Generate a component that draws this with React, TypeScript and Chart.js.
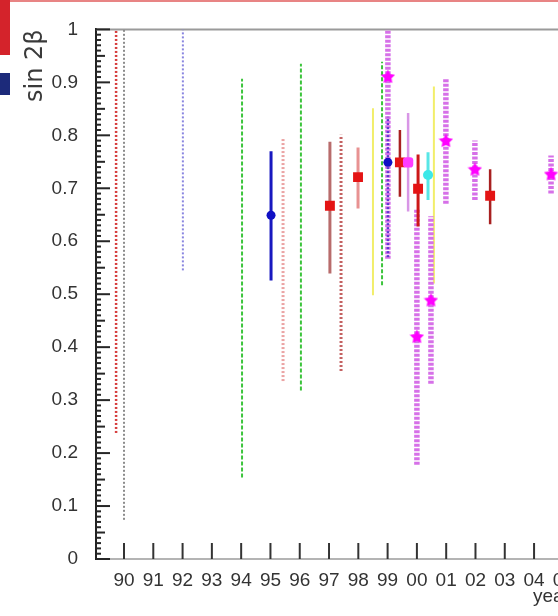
import React, { useEffect, useRef } from 'react';
import { Chart, registerables } from 'chart.js';

Chart.register(...registerables);

// ---- axis ticks ----
const xTickYears = [1990, 1991, 1992, 1993, 1994, 1995, 1996, 1997, 1998, 1999, 2000, 2001, 2002, 2003, 2004, 2005];
const xTickLabels = ['90', '91', '92', '93', '94', '95', '96', '97', '98', '99', '00', '01', '02', '03', '04', '05'];
const yTickValues = [0, 0.1, 0.2, 0.3, 0.4, 0.5, 0.6, 0.7, 0.8, 0.9, 1];
const yTickLabels = ['0', '0.1', '0.2', '0.3', '0.4', '0.5', '0.6', '0.7', '0.8', '0.9', '1'];

const X_MIN = 1989.044;
const X_MAX = 2005.227;
const Y_MIN = 0;
const Y_MAX = 1;

// ---- measurements (sin 2beta vs year) ----
const measYear = [
  1989.73, 1990.0, 1992.01, 1994.03, 1995.02, 1995.43, 1996.04, 1997.03, 1997.41, 1997.99,
  1998.5, 1998.81, 1999.01, 1999.01, 1999.42, 1999.7, 2000.0, 2000.04, 2000.38, 2000.58,
  2000.48, 2000.99, 2001.98, 2002.5, 2004.58,
];
const measCentral: (number | null)[] = [
  null, null, null, null, 0.649, null, null, 0.667, null, 0.721,
  null, null, 0.911, 0.749, 0.749, 0.749, 0.42, 0.699, 0.725, null,
  0.489, 0.79, 0.736, 0.686, 0.727,
];
const measLow = [
  0.238, 0.074, 0.545, 0.154, 0.526, 0.336, 0.318, 0.539, 0.355, 0.662,
  0.498, 0.517, 0.567, 0.57, 0.684, 0.656, 0.178, 0.628, 0.678, 0.52,
  0.331, 0.671, 0.678, 0.632, 0.69,
];
const measHigh = [
  1.0, 1.0, 1.0, 0.907, 0.77, 0.796, 0.935, 0.788, 0.801, 0.777,
  0.851, 0.939, 1.26, 0.835, 0.81, 0.842, 0.66, 0.764, 0.768, 0.892,
  0.647, 0.907, 0.79, 0.736, 0.762,
];
// which drawing style each measurement uses (keys into style tables below)
const measLineKind = [
  'dotRed', 'dotGray', 'dotBlue', 'dashGreen', 'solidBlue', 'dotPink', 'dashGreen', 'solidRosy', 'dotBrown', 'solidSalmon',
  'solidYellow', 'dashGreen', 'dotMagenta', 'dotIndigo', 'solidDarkRed', 'solidViolet', 'dotMagenta', 'solidRed', 'solidCyan', 'solidYellow',
  'dotMagenta', 'dotMagenta', 'dotMagenta', 'solidDarkRed', 'dotMagenta',
];
const measMarkKind: (string | null)[] = [
  null, null, null, null, 'blueDot', null, null, 'redSquare', null, 'redSquare',
  null, null, 'star', 'blueDot', 'redSquare', 'magentaSquare', 'star', 'redSquare', 'cyanDot', null,
  'star', 'star', 'star', 'redSquare', 'star',
];

// ---- styles ----
const lineStyles: Record<string, { color: string; width: number; dash: number[] }> = {
  dotRed: { color: '#d63c3c', width: 2.5, dash: [2, 2] },
  dotGray: { color: '#8c8c8c', width: 2, dash: [2, 2] },
  dotBlue: { color: '#8a86e0', width: 2, dash: [2, 2] },
  dashGreen: { color: '#3cc43c', width: 2, dash: [4, 2] },
  solidBlue: { color: '#1818c0', width: 3, dash: [] },
  dotPink: { color: '#eba4a4', width: 3, dash: [2, 2] },
  solidRosy: { color: '#b86c6c', width: 3, dash: [] },
  dotBrown: { color: '#c46262', width: 3, dash: [2, 2] },
  solidSalmon: { color: '#e89292', width: 3, dash: [] },
  solidYellow: { color: '#f2ee6a', width: 2, dash: [] },
  dotMagenta: { color: '#d670e8', width: 5.5, dash: [3, 1.5] },
  dotIndigo: { color: '#5a3ad0', width: 2.5, dash: [2, 2] },
  solidDarkRed: { color: '#a82020', width: 2.5, dash: [] },
  solidViolet: { color: '#d896e6', width: 2.5, dash: [] },
  solidRed: { color: '#cc1818', width: 3, dash: [] },
  solidCyan: { color: '#58e6e6', width: 3, dash: [] },
};
const markStyles: Record<string, { style: string; radius: number; color: string }> = {
  blueDot: { style: 'circle', radius: 4.5, color: '#1010c4' },
  redSquare: { style: 'rect', radius: 7, color: '#e41414' },
  magentaSquare: { style: 'rectRounded', radius: 6, color: '#ff3cff' },
  cyanDot: { style: 'circle', radius: 5, color: '#3ce8e8' },
  star: { style: 'star', radius: 7, color: '#ff00ff' },
};

const TICK_FONT = 'Liberation Sans, Arial, sans-serif';

function makeStar(size: number, color: string) {
  const c = document.createElement('canvas');
  c.width = size;
  c.height = size;
  const g = c.getContext('2d')!;
  const cx = size / 2;
  const cy = size / 2 + 0.5;
  const R = size / 2;
  const r = R * 0.5;
  g.beginPath();
  for (let k = 0; k < 10; k++) {
    const ang = -Math.PI / 2 + (k * Math.PI) / 5;
    const rad = k % 2 === 0 ? R : r;
    const px = cx + rad * Math.cos(ang);
    const py = cy + rad * Math.sin(ang);
    if (k === 0) g.moveTo(px, py);
    else g.lineTo(px, py);
  }
  g.closePath();
  g.fillStyle = color;
  g.fill();
  return c;
}

const frameAndTicks = {
  id: 'frameAndTicks',
  beforeDatasetsDraw(chart: any) {
    const { ctx, chartArea, scales } = chart;
    const x = scales.x;
    const y = scales.y;
    ctx.save();
    // top frame line
    ctx.strokeStyle = '#9a9a9a';
    ctx.lineWidth = 2;
    ctx.beginPath();
    ctx.moveTo(chartArea.left, chartArea.top);
    ctx.lineTo(chartArea.right + 40, chartArea.top);
    ctx.stroke();
    // y inner ticks
    ctx.strokeStyle = '#262626';
    ctx.lineWidth = 2;
    for (let i = 0; i <= 100; i++) {
      const v = Y_MIN + (i * (Y_MAX - Y_MIN)) / 100;
      const py = y.getPixelForValue(v);
      const len = i % 10 === 0 ? 14 : i % 5 === 0 ? 9 : 5;
      ctx.beginPath();
      ctx.moveTo(chartArea.left, py);
      ctx.lineTo(chartArea.left + len, py);
      ctx.stroke();
    }
    // x inner ticks
    ctx.strokeStyle = '#333';
    ctx.lineWidth = 2;
    xTickYears.forEach((yr) => {
      const px = x.getPixelForValue(yr);
      ctx.beginPath();
      ctx.moveTo(px, chartArea.bottom);
      ctx.lineTo(px, chartArea.bottom - 16);
      ctx.stroke();
    });
    ctx.restore();
  },
};

export default function App() {
  const ref = useRef<HTMLCanvasElement>(null);

  useEffect(() => {
    const canvas = ref.current;
    if (!canvas) return;
    const star = makeStar(15, markStyles.star.color);
    const datasets: any[] = [];
    measYear.forEach((yr, i) => {
      const ls = lineStyles[measLineKind[i]];
      datasets.push({
        type: 'scatter',
        data: [
          { x: yr, y: measLow[i] },
          { x: yr, y: measHigh[i] },
        ],
        showLine: true,
        borderColor: ls.color,
        backgroundColor: ls.color,
        borderWidth: ls.width,
        borderDash: ls.dash,
        pointRadius: 0,
        pointHoverRadius: 0,
        clip: 0,
        order: 1000 - i,
      });
    });
    measYear.forEach((yr, i) => {
      const c = measCentral[i];
      const mk = measMarkKind[i];
      if (c == null || mk == null) return;
      const ms = markStyles[mk];
      datasets.push({
        type: 'scatter',
        data: [{ x: yr, y: c }],
        pointStyle: mk === 'star' ? star : ms.style,
        pointRadius: ms.radius,
        pointHoverRadius: ms.radius,
        backgroundColor: ms.color,
        borderColor: ms.color,
        borderWidth: 0,
        order: 100 - i,
      });
    });

    const chart = new Chart(canvas, {
      type: 'scatter',
      data: { datasets },
      options: {
        responsive: false,
        animation: false,
        devicePixelRatio: 1,
        events: [],
        layout: { padding: { left: 0, top: 20, right: 30, bottom: 0 } },
        plugins: { legend: { display: false }, tooltip: { enabled: false } },
        scales: {
          x: {
            type: 'linear',
            min: X_MIN,
            max: X_MAX,
            afterBuildTicks: (s: any) => {
              s.ticks = xTickYears.map((v) => ({ value: v }));
            },
            afterFit: (s: any) => {
              s.height = 57;
            },
            grid: { display: false, drawTicks: false, drawOnChartArea: false },
            border: { display: true, color: '#b4b4b4', width: 2 },
            ticks: {
              autoSkip: false,
              maxRotation: 0,
              padding: 10,
              color: '#333333',
              font: { family: TICK_FONT, size: 19 },
              callback: (_v: any, idx: number) => xTickLabels[idx],
            },
            title: {
              display: true,
              text: 'year',
              align: 'end',
              color: '#333',
              font: { family: TICK_FONT, size: 19 },
              padding: { top: 0, bottom: 8 },
            },
          },
          y: {
            type: 'linear',
            min: Y_MIN,
            max: Y_MAX,
            afterBuildTicks: (s: any) => {
              s.ticks = yTickValues.map((v) => ({ value: v }));
            },
            afterFit: (s: any) => {
              s.width = 96;
            },
            grid: { display: false, drawTicks: false, drawOnChartArea: false },
            border: { display: true, color: '#222', width: 2 },
            ticks: {
              autoSkip: false,
              padding: 18,
              color: '#333333',
              font: { family: TICK_FONT, size: 19 },
              callback: (_v: any, idx: number) => yTickLabels[idx],
            },
            title: {
              display: true,
              text: 'sin 2β',
              align: 'end',
              color: '#3a3a3a',
              font: { family: 'DejaVu Sans', size: 24 },
              padding: { top: 21, bottom: 0 },
            },
          },
        },
      } as any,
      plugins: [frameAndTicks],
    });
    return () => chart.destroy();
  }, []);

  return (
    <div
      style={{
        position: 'fixed',
        left: 0,
        top: 0,
        width: 558,
        height: 616,
        overflow: 'hidden',
        background: '#ffffff',
      }}
    >
      <canvas ref={ref} width={600} height={616} style={{ position: 'absolute', left: 0, top: 0 }} />
      <div style={{ position: 'absolute', left: 10, top: 0, width: 548, height: 2, background: '#e88484' }} />
      <div style={{ position: 'absolute', left: 0, top: 0, width: 10, height: 55, background: '#d4232b' }} />
      <div style={{ position: 'absolute', left: 0, top: 73, width: 10, height: 22, background: '#1c2a7a' }} />
    </div>
  );
}
